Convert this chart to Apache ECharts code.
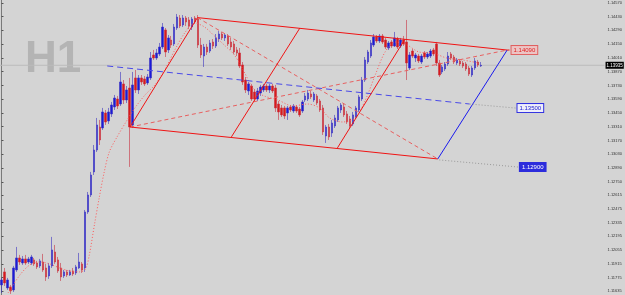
<!DOCTYPE html>
<html><head><meta charset="utf-8">
<script src="https://cdn.jsdelivr.net/npm/echarts@6/dist/echarts.min.js"></script>
<style>html,body{margin:0;padding:0;background:#d4d4d4;}#c{width:625px;height:295px;}</style>
</head><body><div id="c"></div>
<script>
// H1 candles: [open, close, low, high]
const candles = [
[1.11700,1.11751,1.11619,1.11772],[1.11833,1.11721,1.11690,1.11873],[1.11670,1.11751,1.11650,1.11772],[1.11680,1.11640,1.11609,1.11700],
[1.11650,1.11873,1.11629,1.11894],[1.11853,1.11975,1.11833,1.12087],[1.11975,1.11934,1.11904,1.12006],[1.11924,1.11965,1.11904,1.11995],
[1.11965,1.11924,1.11904,1.12006],[1.11934,1.11965,1.11914,1.11985],[1.11924,1.11985,1.11904,1.12006],[1.11955,1.11914,1.11894,1.11975],
[1.11924,1.11884,1.11863,1.11945],[1.11894,1.11945,1.11873,1.11965],[1.11934,1.11853,1.11833,1.12016],[1.11873,1.11782,1.11741,1.11914],
[1.11792,1.11894,1.11762,1.11924],[1.11894,1.12057,1.11873,1.12189],[1.12036,1.11934,1.11914,1.12107],[1.11955,1.11843,1.11823,1.11985],
[1.11873,1.11782,1.11741,1.11924],[1.11792,1.11833,1.11772,1.11853],[1.11833,1.11802,1.11782,1.11853],[1.11802,1.11833,1.11792,1.11853],
[1.11843,1.11812,1.11792,1.11873],[1.11823,1.11884,1.11802,1.11904],[1.11873,1.11934,1.11863,1.12026],[1.11914,1.11853,1.11823,1.11934],
[1.11873,1.12443,1.11833,1.12463],[1.12443,1.12616,1.12423,1.12646],[1.12616,1.12819,1.12595,1.12850],[1.12850,1.13073,1.12819,1.13124],
[1.13073,1.13328,1.13053,1.13399],[1.13307,1.13175,1.13124,1.13379],[1.13297,1.13460,1.13277,1.13501],[1.13450,1.13358,1.13328,1.13480],
[1.13368,1.13460,1.13338,1.13501],[1.13440,1.13531,1.13409,1.13562],[1.13511,1.13602,1.13480,1.13633],[1.13592,1.13521,1.13490,1.13623],
[1.13541,1.13765,1.13521,1.13867],[1.13745,1.13582,1.13541,1.13785],[1.13582,1.13684,1.13551,1.13724],[1.13704,1.13307,1.12901,1.13806],
[1.13328,1.13735,1.13297,1.13867],[1.13806,1.13684,1.13653,1.13887],[1.13684,1.13806,1.13643,1.13836],[1.13806,1.13765,1.13735,1.13836],
[1.13796,1.13745,1.13724,1.13826],[1.13755,1.13816,1.13735,1.13846],[1.13806,1.14009,1.13785,1.14070],[1.14040,1.14009,1.13989,1.14091],
[1.14009,1.14060,1.13989,1.14101],[1.14050,1.14121,1.14029,1.14162],[1.14121,1.14324,1.14101,1.14365],[1.14294,1.14070,1.14019,1.14314],
[1.14091,1.14213,1.14060,1.14243],[1.14192,1.14141,1.14111,1.14233],[1.14152,1.14324,1.14131,1.14355],[1.14314,1.14426,1.14294,1.14457],
[1.14416,1.14335,1.14314,1.14446],[1.14345,1.14416,1.14324,1.14446],[1.14416,1.14375,1.14335,1.14436],[1.14396,1.14335,1.14304,1.14426],
[1.14324,1.14406,1.14294,1.14426],[1.14416,1.14375,1.14355,1.14436],[1.14406,1.14141,1.14111,1.14446],[1.14141,1.14040,1.14009,1.14213],
[1.14029,1.14121,1.13918,1.14152],[1.14121,1.14070,1.14040,1.14152],[1.14080,1.14162,1.14060,1.14192],[1.14172,1.14131,1.14101,1.14202],
[1.14131,1.14213,1.14111,1.14253],[1.14202,1.14253,1.14172,1.14284],[1.14253,1.14213,1.14192,1.14274],[1.14213,1.14243,1.14182,1.14263],
[1.14233,1.14152,1.14131,1.14253],[1.14172,1.14121,1.14091,1.14213],[1.14152,1.14070,1.14050,1.14182],[1.14091,1.14060,1.14029,1.14121],
[1.14060,1.13928,1.13907,1.14111],[1.13938,1.13765,1.13735,1.13968],[1.13785,1.13684,1.13653,1.13816],[1.13674,1.13745,1.13633,1.13765],
[1.13724,1.13592,1.13572,1.13745],[1.13663,1.13592,1.13562,1.13694],[1.13592,1.13674,1.13572,1.13704],[1.13653,1.13714,1.13623,1.13735],
[1.13684,1.13724,1.13663,1.13745],[1.13724,1.13684,1.13663,1.13745],[1.13684,1.13724,1.13653,1.13745],[1.13724,1.13674,1.13653,1.13745],
[1.13704,1.13501,1.13460,1.13735],[1.13541,1.13460,1.13379,1.13572],[1.13501,1.13430,1.13409,1.13531],[1.13501,1.13419,1.13389,1.13521],
[1.13450,1.13501,1.13379,1.13521],[1.13511,1.13480,1.13460,1.13531],[1.13470,1.13521,1.13450,1.13541],[1.13511,1.13470,1.13450,1.13531],
[1.13490,1.13430,1.13409,1.13511],[1.13470,1.13562,1.13450,1.13582],[1.13582,1.13623,1.13562,1.13653],[1.13592,1.13653,1.13572,1.13684],
[1.13643,1.13613,1.13592,1.13674],[1.13582,1.13643,1.13562,1.13663],[1.13623,1.13551,1.13531,1.13643],[1.13572,1.13480,1.13460,1.13592],
[1.13501,1.13257,1.13226,1.13531],[1.13216,1.13307,1.13145,1.13328],[1.13307,1.13206,1.13175,1.13338],[1.13246,1.13348,1.13206,1.13379],
[1.13318,1.13399,1.13297,1.13430],[1.13379,1.13501,1.13358,1.13521],[1.13480,1.13531,1.13450,1.13551],[1.13511,1.13430,1.13409,1.13541],
[1.13440,1.13358,1.13338,1.13470],[1.13389,1.13318,1.13297,1.13419],[1.13338,1.13430,1.13318,1.13460],[1.13409,1.13501,1.13389,1.13521],
[1.13480,1.13613,1.13460,1.13633],[1.13592,1.13785,1.13572,1.13816],[1.13785,1.13989,1.13765,1.14019],[1.13968,1.14070,1.13948,1.14091],
[1.14029,1.14162,1.14009,1.14192],[1.14141,1.14223,1.14121,1.14253],[1.14223,1.14182,1.14162,1.14243],[1.14182,1.14233,1.14162,1.14253],
[1.14233,1.14172,1.14152,1.14253],[1.14192,1.14121,1.14101,1.14213],[1.14111,1.14162,1.14091,1.14182],[1.14172,1.14131,1.14111,1.14192],
[1.14131,1.14213,1.14121,1.14274],[1.14202,1.14121,1.14101,1.14223],[1.14131,1.14192,1.14111,1.14213],[1.14192,1.14152,1.14131,1.14233],
[1.14172,1.13958,1.13785,1.14396],[1.13907,1.14040,1.13887,1.14070],[1.14080,1.14029,1.14009,1.14101],[1.14009,1.14040,1.13968,1.14060],
[1.14029,1.13979,1.13958,1.14050],[1.13968,1.14029,1.13948,1.14050],[1.14060,1.14019,1.13999,1.14080],[1.14019,1.14050,1.13999,1.14070],
[1.14029,1.14080,1.14009,1.14101],[1.14091,1.14050,1.14029,1.14111],[1.14152,1.13958,1.13928,1.14172],[1.13958,1.13836,1.13816,1.13989],
[1.13867,1.13918,1.13846,1.13938],[1.13897,1.13948,1.13877,1.13968],[1.13948,1.14029,1.13928,1.14070],[1.14050,1.14009,1.13989,1.14070],
[1.14019,1.13968,1.13948,1.14040],[1.13958,1.13989,1.13938,1.14009],[1.13979,1.13948,1.13928,1.13999],[1.13958,1.13928,1.13907,1.13979],
[1.13948,1.13897,1.13877,1.13968],[1.13907,1.13846,1.13826,1.13928],[1.13836,1.13907,1.13816,1.13928],[1.13907,1.13979,1.13887,1.14009],
[1.13968,1.13938,1.13918,1.13989],[1.13928,1.13935,1.13918,1.13968]
];
const slotCount = 203;
const slots = Array.from({length: slotCount}, (_, i) => String(i));

// right price scale ticks
const priceTicks = [1.14570,1.14430,1.14290,1.14150,1.14010,1.13870,1.13730,1.13590,1.13450,1.13310,1.13170,
  1.13030,1.12890,1.12750,1.12615,1.12475,1.12335,1.12195,1.12055,1.11915,1.11775,1.11635];
const priceMin = 1.11598, priceMax = 1.14599;
const bidPrice = 1.13935;

// drawing objects: [barIndex, price]
const channelTop    = [[65.8,1.14420],[169.8,1.14090]];
const channelBottom = [[43.2,1.13307],[146.5,1.12982]];
const channelLeft   = [[43.2,1.13307],[65.8,1.14420]];
const channelMid1   = [[77.2,1.13206],[100.2,1.14314]];
const channelMid2   = [[112.8,1.13094],[135.5,1.14202]];
const channelRight  = [[146.5,1.12982],[169.8,1.14090]];
const diagAC        = [[43.2,1.13307],[169.8,1.14090]];
const diagBD        = [[65.8,1.14420],[146.5,1.12982]];
const blueTrend     = [[35.5,1.13928],[157.2,1.13541]];
const link1409      = [[169.8,1.14090],[170.6,1.14090]];
const link1350      = [[157.2,1.13541],[172.6,1.13500]];
const link1290      = [[147.0,1.12972],[173.4,1.12900]];
const bidLine       = [[-0.5,bidPrice],[202.5,bidPrice]];
const maLine = [[2.2,1.11619],[6.2,1.11802],[9.5,1.11904],[12.8,1.11934],[16.2,1.11914],[19.5,1.11873],[22.8,1.11843],
 [26.2,1.11833],[28.2,1.11863],[29.5,1.12006],[31.2,1.12311],[32.8,1.12585],[34.5,1.12850],[36.2,1.13053],[38.8,1.13206],
 [41.8,1.13358],[44.8,1.13501],[48.2,1.13633],[51.5,1.13735],[54.8,1.13887],[58.2,1.14091],[61.5,1.14263],[64.8,1.14365],
 [68.2,1.14324],[71.5,1.14233],[74.8,1.14141],[78.2,1.14040],[81.5,1.13867],[84.8,1.13684],[88.2,1.13623],[92.8,1.13582],
 [97.8,1.13521],[102.8,1.13541],[106.8,1.13501],[110.2,1.13399],[114.5,1.13358],[118.8,1.13399],[122.2,1.13582],[125.5,1.13836],
 [128.8,1.14070],[132.2,1.14172],[136.2,1.14141],[140.2,1.14070],[144.8,1.14060],[149.5,1.14009],[154.8,1.13989],[160.2,1.13958]];

function seg(data, color, type, width, extra) {
  return Object.assign({
    type: 'line', xAxisIndex: 1, yAxisIndex: 0, data: data, symbol: 'none', silent: true, z: 4,
    lineStyle: {color: color, type: type, width: width}
  }, extra || {});
}
function tag(text, bg, border, fg, size) {
  return {endLabel: {show: true, formatter: text, backgroundColor: bg, borderColor: border, borderWidth: 1,
    color: fg, fontSize: size, fontFamily: 'Liberation Sans', padding: [1, 2], distance: 2}};
}

const chart = echarts.init(document.getElementById('c'), null, {renderer: 'canvas'});
chart.setOption({
  animation: false,
  backgroundColor: '#d4d4d4',
  grid: {left: 0, right: 17, top: 0, bottom: 0},
  graphic: [{type: 'text', left: 25, top: 38, z: 0, silent: true,
    style: {text: 'H1', font: 'bold 44px "Liberation Sans"', fill: '#b4b4b4'}}],
  xAxis: [
    {type: 'category', data: slots, boundaryGap: true, show: false},
    {type: 'value', min: -0.5, max: slotCount - 0.5, show: false}
  ],
  yAxis: [{
    type: 'value', position: 'right', min: priceMin, max: priceMax, scale: true,
    splitLine: {show: false},
    axisLine: {show: true, lineStyle: {color: '#7a7a7a', width: 1}},
    axisTick: {show: true, length: 2, customValues: priceTicks, lineStyle: {color: '#555'}},
    axisLabel: {customValues: priceTicks, formatter: v => v.toFixed(5), fontSize: 4, color: '#333',
      margin: 3, fontFamily: 'Liberation Sans'}
  }],
  series: [
    seg(bidLine, '#bcbcbc', 'solid', 1, {z: 1, endLabel: {show: true, formatter: bidPrice.toFixed(5),
      backgroundColor: '#000', color: '#fff', fontSize: 4.5, fontFamily: 'Liberation Sans', padding: [1, 1], distance: 1}}),
    {type: 'candlestick', xAxisIndex: 0, yAxisIndex: 0, data: candles, barWidth: 2, z: 2,
      itemStyle: {color: '#1a1ad8', color0: '#d81a1a', borderColor: '#3a32c0', borderColor0: '#c83040', borderWidth: 0.6}},
    seg(maLine, '#ff5a5a', [1, 2], 1, {smooth: 0.3, z: 3}),
    seg(diagAC, '#e86060', [4, 3], 1),
    seg(diagBD, '#e86060', [4, 3], 1),
    seg(blueTrend, '#4a4ae8', [6, 4], 1),
    seg(channelTop, '#f01414', 'solid', 1),
    seg(channelBottom, '#f01414', 'solid', 1),
    seg(channelLeft, '#f01414', 'solid', 1),
    seg(channelMid1, '#f01414', 'solid', 1),
    seg(channelMid2, '#f01414', 'solid', 1),
    seg(channelRight, '#1a1aee', 'solid', 1),
    seg(link1409, '#f01414', 'solid', 1, tag('1.14090', '#ecc4c4', '#e06060', '#e02020', 6)),
    seg(link1350, '#9a9a9a', [1, 2], 1, tag('1.13500', '#eeeefa', '#3030e0', '#2020d0', 6)),
    seg(link1290, '#9a9a9a', [1, 2], 1, tag('1.12900', '#2c2cdc', '#2c2cdc', '#ffffff', 6))
  ]
});
</script></body></html>
